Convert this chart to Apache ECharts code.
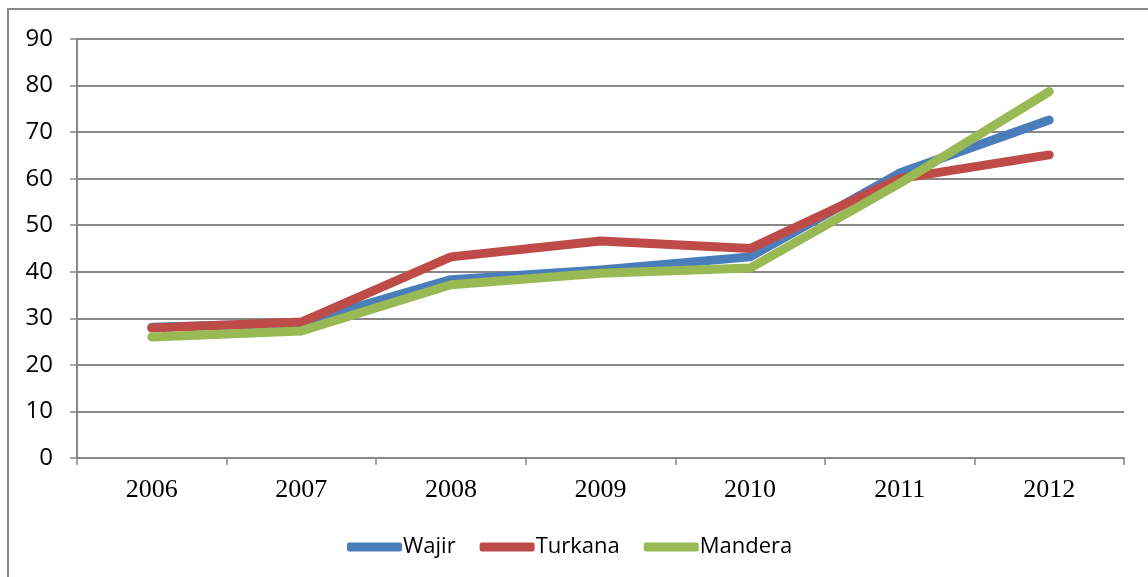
<!DOCTYPE html>
<html>
<head>
<meta charset="utf-8">
<script src="https://cdn.jsdelivr.net/npm/echarts@6/dist/echarts.min.js"></script>
<style>
  html, body { margin: 0; padding: 0; background: #fff; }
  #chart { width: 1148px; height: 577px; }
</style>
</head>
<body>
<div id="chart"></div>
<script>
// years on the x axis
const years = ['2006', '2007', '2008', '2009', '2010', '2011', '2012']
// values
const wajir = [28.1, 29.0, 38.3, 40.4, 43.2, 61.2, 72.6]
const turkana = [27.9, 29.2, 43.2, 46.6, 45.0, 60.0, 65.1]
const mandera = [26.0, 27.3, 37.2, 39.7, 40.8, 59.0, 78.7]

const gray = '#888888'
const myChart = echarts.init(document.getElementById('chart'))

function lineSeries (name, data, color) {
  return {
    name: name,
    type: 'line',
    data: data,
    symbol: 'none',
    lineStyle: { width: 9, color: color, cap: 'round', join: 'round' },
    itemStyle: { color: color }
  }
}

const option = {
  animation: false,
  backgroundColor: '#fff',
  graphic: [{
    type: 'rect',
    shape: { x: 8, y: 9, width: 1300, height: 800 },
    style: { fill: 'none', stroke: gray, lineWidth: 2 },
    silent: true
  }],
  grid: {
    left: 77,
    right: 24,
    top: 39,
    bottom: 119
  },
  legend: {
    left: 342,
    top: 531,
    itemWidth: 55,
    itemHeight: 9,
    itemGap: 24,
    icon: 'roundRect',
    textStyle: { fontFamily: 'Open Sans', fontSize: 22, color: '#000', padding: [0, 0, 0, -4] },
    data: ['Wajir', 'Turkana', 'Mandera']
  },
  xAxis: {
    type: 'category',
    data: years,
    boundaryGap: true,
    axisLine: { lineStyle: { color: gray, width: 2 } },
    axisTick: { show: true, length: 7, lineStyle: { color: gray, width: 1.5 } },
    axisLabel: { fontFamily: 'Liberation Serif', fontSize: 26, color: '#000', margin: 19 },
    splitLine: { show: false }
  },
  yAxis: {
    type: 'value',
    min: 0,
    max: 90,
    interval: 10,
    axisLine: { show: true, lineStyle: { color: gray, width: 2 } },
    axisTick: { show: true, length: 7, lineStyle: { color: gray, width: 1.5 } },
    axisLabel: { fontFamily: 'Open Sans', fontSize: 24, color: '#000', margin: 24 },
    splitLine: { lineStyle: { color: gray, width: 2 } }
  },
  series: [
    lineSeries('Wajir', wajir, '#4a7ebb'),
    lineSeries('Turkana', turkana, '#be4b48'),
    lineSeries('Mandera', mandera, '#98b954')
  ]
}
myChart.setOption(option)
</script>
</body>
</html>
